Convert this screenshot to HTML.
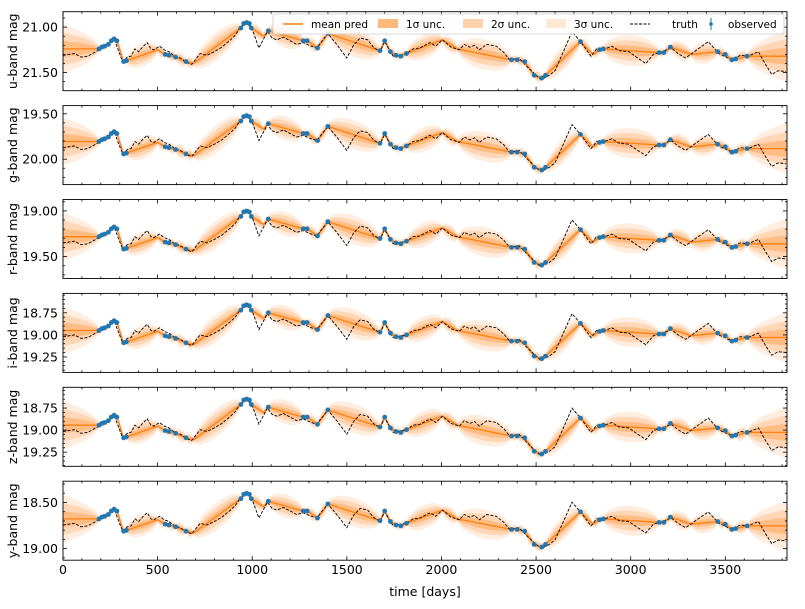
<!DOCTYPE html>
<html><head><meta charset="utf-8"><style>
body{margin:0;background:#fff;font-family:"Liberation Sans","DejaVu Sans",sans-serif;}
svg text{font-family:"DejaVu Sans","Liberation Sans",sans-serif;}
</style></head><body>
<svg id="chart" width="805" height="604" viewBox="0 0 805 604" xmlns="http://www.w3.org/2000/svg"></svg>
<script>
const truthDays=[0,30,60,95,130,165,200,235,270,315,340,360,380,400,420,445,465,480,510,535,560,590,620,655,680,725,760,800,840,885,910,935,970,1000,1035,1080,1105,1130,1165,1200,1235,1270,1300,1340,1400,1450,1475,1500,1535,1570,1610,1640,1675,1700,1745,1815,1850,1885,1940,1970,2005,2050,2095,2120,2150,2175,2200,2240,2290,2330,2360,2410,2450,2480,2525,2570,2600,2640,2690,2735,2790,2820,2850,2900,2940,2990,3030,3080,3120,3165,3215,3250,3290,3350,3410,3465,3535,3580,3620,3675,3710,3745,3780,3820];
const truthU=[21.31,21.30,21.29,21.33,21.32,21.28,21.24,21.20,21.13,21.38,21.33,21.32,21.24,21.27,21.22,21.17,21.24,21.25,21.21,21.25,21.27,21.32,21.34,21.39,21.41,21.29,21.31,21.27,21.22,21.14,21.09,21.01,20.95,21.02,21.23,21.05,21.12,21.14,21.11,21.15,21.19,21.17,21.20,21.23,21.07,21.20,21.27,21.34,21.20,21.12,21.14,21.22,21.27,21.16,21.32,21.29,21.24,21.23,21.17,21.21,21.14,21.22,21.25,21.19,21.22,21.20,21.25,21.19,21.21,21.28,21.36,21.34,21.43,21.49,21.58,21.53,21.48,21.29,21.05,21.16,21.32,21.24,21.25,21.21,21.26,21.27,21.33,21.40,21.30,21.27,21.23,21.29,21.34,21.25,21.16,21.29,21.36,21.31,21.32,21.27,21.40,21.52,21.48,21.49];
const obsDays=[190,205,220,240,255,270,285,320,335,540,560,595,650,940,955,970,985,995,1085,1270,1290,1345,1400,1675,1700,1730,1760,1785,1815,2370,2400,2440,2490,2530,2550,2735,2835,2855,3150,3175,3210,3460,3500,3535,3555,3615];
const obsU=[21.24,21.22,21.21,21.19,21.15,21.13,21.15,21.38,21.37,21.30,21.31,21.33,21.38,21.01,20.96,20.95,20.96,21.01,21.04,21.15,21.15,21.23,21.07,21.26,21.15,21.27,21.31,21.32,21.29,21.36,21.36,21.38,21.53,21.56,21.53,21.16,21.25,21.24,21.28,21.28,21.22,21.27,21.30,21.36,21.35,21.32];
// prediction knots visible as envelope waists (no plotted marker)
const knotDays=[500,690,1060,2005,2085,2800,3320];
const knotU=[21.25,21.40,21.10,21.14,21.24,21.30,21.30];
const bandNames=["u","g","r","i","z","y"];
const bandOffset=[0,-1.43,-1.95,-2.29,-2.30,-2.55];
const bandScale=[1,0.98,0.97,1.0,1.02,0.95];
const yMin=[20.83,19.41,18.875,18.53,18.515,18.27];
const yMax=[21.70,20.28,19.74,19.425,19.41,19.125];
const yMajor=[[21.0,21.5],[19.5,20.0],[19.0,19.5],[18.75,19.0,19.25],[18.75,19.0,19.25],[18.5,19.0]];
const yMinorStep=[0.1,0.1,0.1,0.05,0.05,0.1];
const xTicks=[0,500,1000,1500,2000,2500,3000,3500];

const NS="http://www.w3.org/2000/svg";
const svg=document.getElementById('chart');
const X0=63,X1=787,XMAX=3826;
const sx=d=>X0+(d/XMAX)*(X1-X0);
function mk(tag,attrs,parent){const e=document.createElementNS(NS,tag);for(const k in attrs)e.setAttribute(k,attrs[k]);(parent||svg).appendChild(e);return e;}
const allK=obsDays.map((d,i)=>[d,obsU[i]]).concat(knotDays.map((d,i)=>[d,knotU[i]])).sort((a,b)=>a[0]-b[0]);
function pred(t){
  const s=0.0065,s0=0.008;const n=allK.length;
  if(t<=allK[0][0])return[allK[0][1],Math.sqrt(s0*s0+s*s*(allK[0][0]-t))];
  if(t>=allK[n-1][0])return[allK[n-1][1],Math.sqrt(s0*s0+s*s*(t-allK[n-1][0]))];
  for(let i=1;i<n;i++){if(t<=allK[i][0]){const a=allK[i-1][0],b=allK[i][0];const f=(t-a)/(b-a||1);
    return[allK[i-1][1]+f*(allK[i][1]-allK[i-1][1]),Math.sqrt(s0*s0+s*s*(t-a)*(b-t)/(b-a||1))];}}
}
const PT=11.7,PH=79,PS=93.9;
for(let p=0;p<6;p++){
  const top=PT+p*PS,bot=top+PH;
  const g=mk('g',{});
  
  
  const sy=m=>top+(m-yMin[p])/(yMax[p]-yMin[p])*PH;
  const mag=v=>(v-21.0)*bandScale[p]+21.0+bandOffset[p];
  const clip=mk('clipPath',{id:'c'+p},g);mk('rect',{x:X0,y:top,width:X1-X0,height:PH},clip);
  const cg=mk('g',{'clip-path':'url(#c'+p+')'},g);
  const ts=[];for(let t=0;t<=XMAX;t+=4)ts.push(t);
  const ops=[0.13,0.2,0.3];
  [3,2,1].forEach((k,ki)=>{
    let up='',dn='';
    ts.forEach((t,i)=>{const[m,s]=pred(t);up+=(i?'L':'M')+sx(t).toFixed(1)+','+sy(mag(m)-k*s*bandScale[p]).toFixed(1);});
    for(let i=ts.length-1;i>=0;i--){const t=ts[i];const[m,s]=pred(t);dn+='L'+sx(t).toFixed(1)+','+sy(mag(m)+k*s*bandScale[p]).toFixed(1);}
    const band=mk('path',{d:up+dn+'Z',fill:'#ff7f0e','fill-opacity':ops[ki],stroke:'none'},cg);
    
    
  });
  let md='';ts.forEach((t,i)=>{md+=(i?'L':'M')+sx(t).toFixed(1)+','+sy(mag(pred(t)[0])).toFixed(1);});
  const ml=mk('path',{d:md,fill:'none',stroke:'#ff7f0e','stroke-width':1.3},cg);
  
  
  let td='';truthDays.forEach((d,i)=>{td+=(i?'L':'M')+sx(d).toFixed(1)+','+sy(mag(truthU[i])).toFixed(1);});
  const tl=mk('path',{d:td,fill:'none',stroke:'#000','stroke-width':0.9,'stroke-dasharray':'3,1.5'},cg);
  
  
  obsDays.forEach((d,i)=>{
    const c=mk('circle',{cx:sx(d).toFixed(1),cy:sy(mag(obsU[i])).toFixed(1),r:2.4,fill:'#1f77b4'},cg);
    
    
  });
  mk('rect',{x:X0,y:top,width:X1-X0,height:PH,fill:'none',stroke:'#000','stroke-width':0.9},g);
  for(let d=0;d<=XMAX;d+=100){const maj=d%500===0;const L=maj?4:2;const x=sx(d);
    mk('line',{x1:x,x2:x,y1:bot,y2:bot-L,stroke:'#000','stroke-width':0.8},g);
    mk('line',{x1:x,x2:x,y1:top,y2:top+L,stroke:'#000','stroke-width':0.8},g);}
  const st=yMinorStep[p];
  for(let v=Math.ceil(yMin[p]/st)*st;v<=yMax[p];v+=st){const y=sy(v);const maj=yMajor[p].some(m=>Math.abs(m-v)<1e-6);const L=maj?4:2;
    mk('line',{x1:X0,x2:X0+L,y1:y,y2:y,stroke:'#000','stroke-width':0.8},g);
    mk('line',{x1:X1,x2:X1-L,y1:y,y2:y,stroke:'#000','stroke-width':0.8},g);}
  yMajor[p].forEach(v=>{const t=mk('text',{x:X0-5,y:sy(v)+4.5,'text-anchor':'end','font-size':12.5},g);t.textContent=v.toFixed(2);
    });
  const yl=mk('text',{transform:`translate(17,${top+PH/2}) rotate(-90)`,'text-anchor':'middle','font-size':12.5},g);
  yl.textContent=bandNames[p]+'-band mag';
  
  
  if(p===5){xTicks.forEach(d=>{const t=mk('text',{x:sx(d),y:bot+14,'text-anchor':'middle','font-size':12.5},g);t.textContent=d;
    });}
}
const xt=mk('text',{x:425,y:596,'text-anchor':'middle','font-size':12.5});xt.textContent='time [days]';


const lg=mk('g',{});


mk('rect',{x:273,y:14,width:511,height:20,rx:2,fill:'#fff','fill-opacity':0.85,stroke:'#ccc','stroke-width':0.8},lg);
const items=[['line',283,'mean pred'],['p1',378,'1σ unc.'],['p2',463,'2σ unc.'],['p3',546,'3σ unc.'],['truth',630,'truth'],['obs',706,'observed']];
items.forEach(([k,x,lab])=>{
  const e=mk('g',{},lg);
  
  
  if(k==='line')mk('line',{x1:x,x2:x+20,y1:24,y2:24,stroke:'#ff7f0e','stroke-width':1.5},e);
  else if(k[0]==='p'){const o={p1:0.55,p2:0.35,p3:0.18}[k];mk('rect',{x:x,y:19,width:20,height:9,fill:'#ff7f0e','fill-opacity':o},e);}
  else if(k==='truth')mk('line',{x1:x,x2:x+20,y1:24,y2:24,stroke:'#000','stroke-width':1,'stroke-dasharray':'3,1.5'},e);
  else{mk('line',{x1:x+5,x2:x+5,y1:18,y2:30,stroke:'#1f77b4','stroke-width':1},e);mk('circle',{cx:x+5,cy:24,r:1.8,fill:'#1f77b4'},e);}
  const t=mk('text',{x:x+(k==='obs'?22:k==='truth'?42:28),y:28,'font-size':10.5},e);t.textContent=lab;
});
</script>
</body></html>
